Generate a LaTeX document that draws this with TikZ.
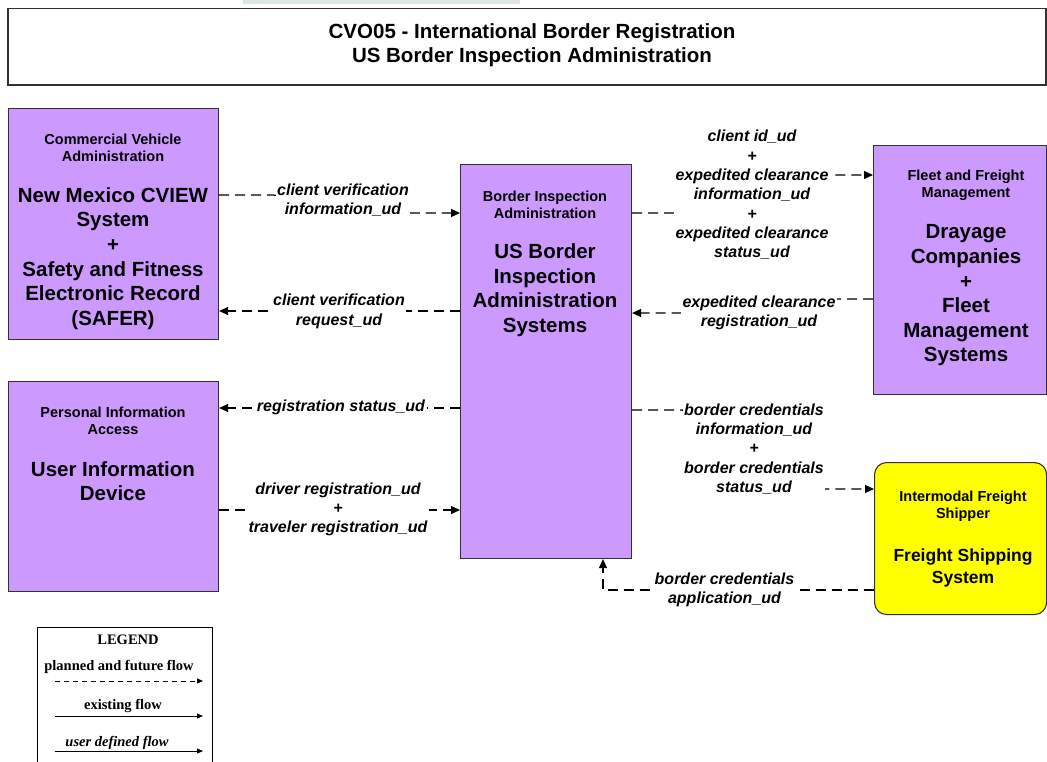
\documentclass[tikz,border=0pt]{standalone}
\usepackage{fontspec}
\setmainfont{Liberation Sans}
\newfontfamily\legfont{Liberation Serif}
\usetikzlibrary{arrows.meta}
\definecolor{lav}{RGB}{204,153,255}
\definecolor{yel}{RGB}{255,255,0}
\definecolor{stripcol}{RGB}{220,230,230}
\definecolor{edgecol}{RGB}{50,50,50}
\newcommand\fsmall{\fontsize{14.5}{17}\selectfont\bfseries}
\newcommand\fbig{\fontsize{20.5}{24.6}\selectfont\bfseries}
\newcommand\flab{\fontsize{16}{19.3}\selectfont\bfseries\itshape}
\newcommand\fship{\fontsize{17.5}{22}\selectfont\bfseries}
\newcommand\ftitle{\fontsize{20.5}{24}\selectfont\bfseries}
\newcommand\fleg{\legfont\fontsize{14.5}{17}\selectfont\bfseries}
\begin{document}
\begin{tikzpicture}[x=1pt,y=-1pt,
  box/.style={draw=edgecol, line width=1.1pt, fill=lav, anchor=north west, inner sep=0pt},
  txt/.style={align=center, inner sep=0pt, text=black},
  lab/.style={align=center, inner sep=0pt, inner xsep=1.5pt, fill=white, font=\flab},
  flow/.style={draw=black, line width=1.2pt, dash pattern=on 10pt off 6pt, -{Triangle[length=9pt,width=8pt]}},
  legarrow/.style={draw=black, line width=0.9pt, -{Triangle[length=6pt,width=5pt]}}
]
\useasboundingbox (0,0) rectangle (1047,762);
\fill[white] (0,0) rectangle (1047,762);
% top strip and title frame
\fill[stripcol] (243,0) rectangle (520,4.5);
\draw[draw=edgecol, line width=1.3pt] (8,8.5) rectangle (1046,85);
\node[txt, font=\ftitle] (title) at (532,45) {CVO05 - International Border Registration\\US Border Inspection Administration};

% boxes
\node[box, minimum width=210pt, minimum height=231pt] (cva) at (8,108) {};
\node[box, minimum width=210pt, minimum height=210pt] (pia) at (8,381) {};
\node[box, minimum width=171pt, minimum height=394pt] (bia) at (460,164) {};
\node[box, minimum width=173pt, minimum height=249pt] (fleet) at (873,145) {};
\node[box, fill=yel, rounded corners=12pt, minimum width=172pt, minimum height=152pt] (frt) at (874,462) {};

% box texts
\node[txt, font=\fsmall] (cvaS) at (113,148) {Commercial Vehicle\\Administration};
\node[txt, font=\fbig] (cvaB) at (113,258.5) {New Mexico CVIEW\\System\\+\\Safety and Fitness\\Electronic Record\\(SAFER)};
\node[txt, font=\fsmall] (piaS) at (113,421) {Personal Information\\Access};
\node[txt, font=\fbig] (piaB) at (113,481) {User Information\\Device};
\node[txt, font=\fsmall] (biaS) at (545,204.5) {Border Inspection\\Administration};
\node[txt, font=\fbig] (biaB) at (545,290) {US Border\\Inspection\\Administration\\Systems};
\node[txt, font=\fsmall] (fleetS) at (966,185) {Fleet and Freight\\Management};
\node[txt, font=\fbig] (fleetB) at (966,295.5) {Drayage\\Companies\\+\\Fleet\\Management\\Systems};
\node[txt, font=\fsmall] (frtS) at (963,506.5) {Intermodal Freight\\Shipper};
\node[txt, font=\fship] (frtB) at (963,567.5) {Freight Shipping\\System};

% connectors
\coordinate (c1a) at (273,195); \coordinate (c1b) at (411,213);
\draw[flow] (cva.east |- c1a) -- (c1a) -- (c1b) -- (bia.west |- c1b);
\coordinate (c2) at (340,311);
\draw[flow] (bia.west |- c2) -- (cva.east |- c2);
\coordinate (c3) at (340,408);
\draw[flow] (bia.west |- c3) -- (pia.east |- c3);
\coordinate (c4) at (340,510);
\draw[flow] (pia.east |- c4) -- (bia.west |- c4);
\coordinate (c5a) at (676,213); \coordinate (c5b) at (828,175);
\draw[flow] (bia.east |- c5a) -- (c5a) -- (c5b) -- (fleet.west |- c5b);
\coordinate (c6a) at (838,299); \coordinate (c6b) at (682,313);
\draw[flow] (fleet.west |- c6a) -- (c6a) -- (c6b) -- (bia.east |- c6b);
\coordinate (c7a) at (682,410); \coordinate (c7b) at (822,489);
\draw[flow] (bia.east |- c7a) -- (c7a) -- (c7b) -- (frt.west |- c7b);
\coordinate (c8) at (603,590);
\draw[flow] (frt.west |- c8) -- (c8) -- (c8 |- bia.south);

% connector labels
\node[lab] (l1) at (343,200.5) {client verification\\information\_ud};
\node[lab] (l2) at (339,311.5) {client verification\\request\_ud};
\node[lab] (l3) at (341,407.5) {registration status\_ud};
\node[lab] (l4) at (338,509.5) {driver registration\_ud\\+\\traveler registration\_ud};
\node[lab] (l5) at (752,195) {client id\_ud\\+\\expedited clearance\\information\_ud\\+\\expedited clearance\\status\_ud};
\node[lab] (l6) at (759,313) {expedited clearance\\registration\_ud};
\node[lab] (l7) at (754,449) {border credentials\\information\_ud\\+\\border credentials\\status\_ud};
\node[lab] (l8) at (724.5,590) {border credentials\\application\_ud};

% legend
\draw[draw=black, line width=1pt] (37,767) -- (37,627) -- (212,627) -- (212,767);
\node[txt, font=\fleg] (legT) at (128,639.5) {LEGEND};
\node[txt, font=\fleg] (legP) at (119,666.5) {planned and future flow};
\coordinate (lp1) at (55,681); \coordinate (lp2) at (203,681);
\draw[legarrow, dash pattern=on 5pt off 4pt] (lp1) -- (lp2);
\node[txt, font=\fleg] (legE) at (123,705.5) {existing flow};
\coordinate (le1) at (55,716); \coordinate (le2) at (203,716);
\draw[legarrow] (le1) -- (le2);
\node[txt, font=\fleg\itshape] (legU) at (117,742.5) {user defined flow};
\coordinate (lu1) at (55,751); \coordinate (lu2) at (203,751);
\draw[legarrow] (lu1) -- (lu2);
\end{tikzpicture}
\end{document}
